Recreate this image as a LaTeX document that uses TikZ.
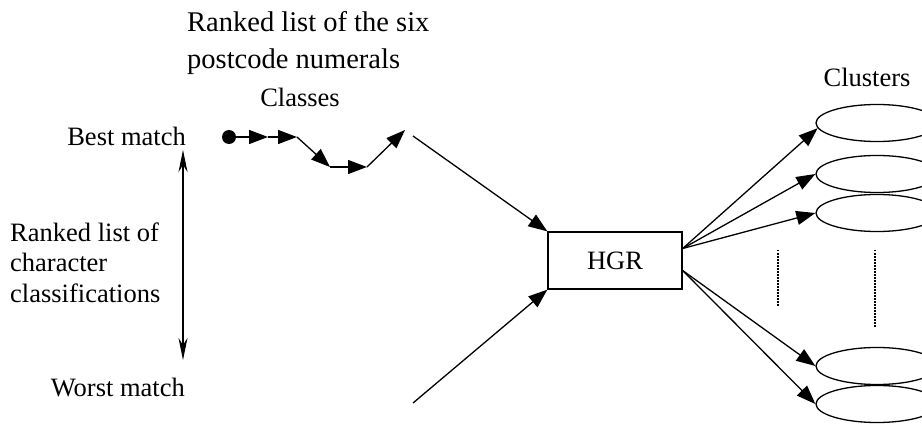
\documentclass[tikz,border=0pt]{standalone}
\usepackage{fontspec}
\setmainfont{Liberation Serif}
\usetikzlibrary{arrows.meta,shapes.geometric}
\begin{document}
\begin{tikzpicture}[x=1pt,y=-1pt,
  txt/.style={inner sep=0pt,font=\fontsize{26.5}{30}\selectfont},
  ttl/.style={inner sep=0pt,font=\fontsize{28.5}{37}\selectfont},
  tri/.style={line width=1.3pt,-{Triangle[length=19pt,width=14pt]}},
  dbl/.style={line width=1.3pt,{Stealth[length=22pt,width=9pt,inset=7pt]}-{Stealth[length=22pt,width=9pt,inset=7pt]}},
  clus/.style={draw,line width=1.3pt,ellipse,inner sep=0pt,minimum width=122pt,minimum height=37pt},
  dotln/.style={line width=1.2pt,dash pattern=on 1.5pt off 1.5pt}
]
\useasboundingbox (0,0) rectangle (922,425);

% texts
\node[ttl,anchor=base west] (t1) at (187,32) {Ranked list of the six};
\node[ttl,anchor=base west] (t2) at (187,69) {postcode numerals};
\node[txt,anchor=base] (classes) at (300,107) {Classes};
\node[txt,anchor=base] (clusters) at (867,87) {Clusters};
\node[txt,anchor=base east] (best) at (186,146) {Best match};
\node[txt,anchor=base east] (worst) at (185,396) {Worst match};
\node[txt,anchor=base west] (r1) at (10,242) {Ranked list of};
\node[txt,anchor=base west] (r2) at (10,272) {character};
\node[txt,anchor=base west] (r3) at (10,302) {classifications};

% ranking double arrow
\coordinate (top) at (183,150);
\coordinate (bot) at (183,360);
\draw[dbl] (top) -- (bot);

% chain of classes
\node[circle,fill,inner sep=0pt,minimum size=14pt] (dot) at (229,137) {};
\coordinate (c1) at (268,137);
\coordinate (c2) at (297,137);
\coordinate (c3) at (330,167);
\coordinate (c4) at (367,167);
\coordinate (c5) at (405,130);
\draw[tri] (dot) -- (c1);
\draw[tri] (c1) -- (c2);
\draw[tri] (c2) -- (c3);
\draw[tri] (c3) -- (c4);
\draw[tri] (c4) -- (c5);

% HGR box
\node[draw,line width=1.3pt,txt,minimum width=134pt,minimum height=57pt] (hgr) at (615,260.5) {HGR};
\coordinate (in1) at (413,136);
\coordinate (in2) at (413,403);
\draw[tri] (in1) -- (hgr.north west);
\draw[tri] (in2) -- (hgr.south west);

% clusters
\node[clus] (e1) at (877,123) {};
\node[clus] (e2) at (877,174) {};
\node[clus] (e3) at (877,213) {};
\node[clus] (e4) at (877,366) {};
\node[clus] (e5) at (877,404) {};

\coordinate (o1) at ([yshift=12pt]hgr.east);
\coordinate (o2) at ([yshift=-10pt]hgr.east);
\draw[tri] (o1) -- (e1.185);
\draw[tri] (o1) -- (e2.west);
\draw[tri] (o1) -- (e3.west);
\draw[tri] (o2) -- (e4.west);
\draw[tri] (o2) -- (e5.west);

% dotted continuation marks
\coordinate (d1a) at (778,250);
\coordinate (d1b) at (778,307);
\coordinate (d2a) at (875,250);
\coordinate (d2b) at (875,327);
\draw[dotln] (d1a) -- (d1b);
\draw[dotln] (d2a) -- (d2b);
\end{tikzpicture}
\end{document}
